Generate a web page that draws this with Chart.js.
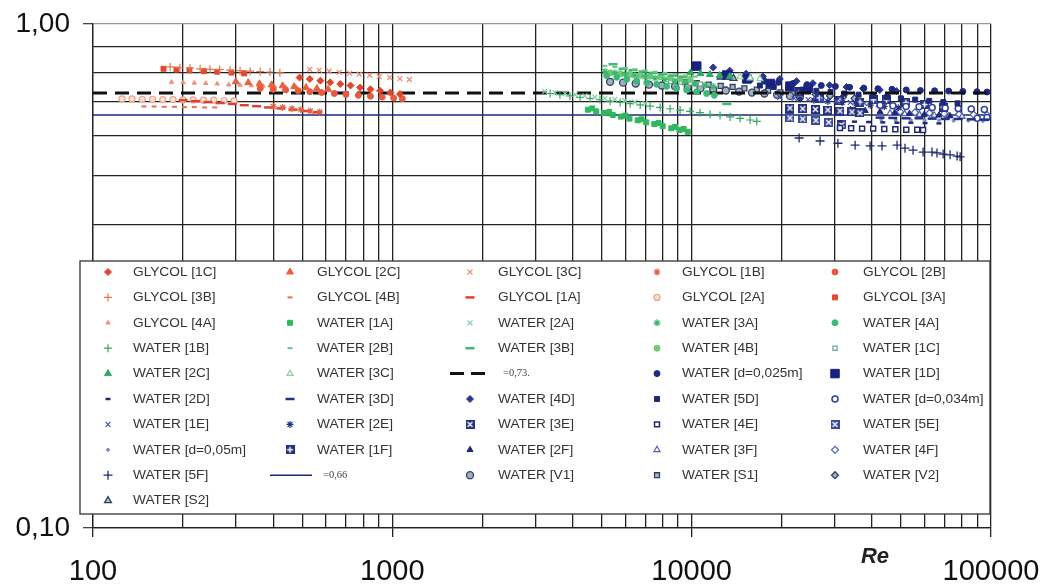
<!DOCTYPE html>
<html>
<head>
<meta charset="utf-8">
<style>
html, body { margin: 0; padding: 0; background: #fff; }
canvas { display: block; }
</style>
<script src="https://cdn.jsdelivr.net/npm/chart.js@4/dist/chart.umd.min.js"></script>
</head>
<body>
<canvas id="c" width="1047" height="588"></canvas>
<script>
// axis ticks
var xTickValues = [100, 1000, 10000, 100000];
var xTickText = ['100', '1000', '10000', '100000'];
var yTickValues = [0.1, 1];
var yTickText = ['0,10', '1,00'];

// reference lines
var ref073 = 0.73;
var ref066 = 0.66;

// GLYCOL series, [Re, value]
var G1C = [[490,0.783],[530,0.778],[575,0.772],[620,0.766],[670,0.760],[725,0.755],[780,0.748],[845,0.742],[910,0.737],[985,0.731],[1060,0.726]];
var G2C = [[300,0.768],[330,0.765],[360,0.761],[395,0.757],[430,0.754],[470,0.751],[515,0.748],[560,0.745],[610,0.742]];
var G3C = [[530,0.813],[570,0.810],[615,0.806],[665,0.802],[720,0.798],[775,0.795],[840,0.791],[905,0.787],[980,0.783],[1060,0.779],[1140,0.776]];
var G1B = [[400,0.686],[430,0.683],[462,0.679],[495,0.676],[532,0.672],[572,0.669]];
var G2B = [[362,0.745],[400,0.742],[440,0.740],[485,0.737],[530,0.734],[580,0.731],[640,0.728],[700,0.725],[770,0.722],[845,0.719],[925,0.716],[1010,0.713],[1080,0.711]];
var G3B = [[181,0.822],[195,0.819],[211,0.818],[228,0.815],[246,0.813],[265,0.812],[287,0.810],[310,0.808],[335,0.806],[362,0.805],[390,0.803],[421,0.800]];
var G4B = [[148,0.686],[160,0.686],[173,0.685],[187,0.685],[202,0.684],[218,0.684],[236,0.683],[255,0.683]];
var G1A = [[200,0.706],[220,0.703],[242,0.700],[266,0.697],[292,0.694],[320,0.690],[352,0.687],[386,0.683],[424,0.680],[466,0.676],[512,0.672],[562,0.668]];
var G2A = [[125,0.710],[135,0.710],[146,0.709],[158,0.709],[171,0.708],[185,0.708],[200,0.707],[216,0.707],[234,0.706],[253,0.706],[274,0.705],[296,0.704]];
var G3A = [[172,0.815],[190,0.812],[210,0.809],[235,0.806],[260,0.804],[290,0.801],[320,0.798]];
var G4A = [[183,0.767],[200,0.766],[218,0.764],[238,0.763],[260,0.761],[284,0.758],[310,0.757],[338,0.755],[370,0.753],[404,0.751],[440,0.749],[480,0.747]];

// WATER series, [Re, value]
var W1A = [[4500,0.676],[4650,0.680],[4800,0.671],[5100,0.666],[5300,0.669],[5450,0.660],[5800,0.655],[6000,0.658],[6200,0.649],[6600,0.644],[6800,0.647],[7050,0.638],[7500,0.633],[7750,0.636],[8000,0.627],[8550,0.621],[8800,0.625],[9100,0.616],[9400,0.619],[9700,0.611]];
var W2A = [[3230,0.735],[3500,0.731],[3780,0.728],[4080,0.724],[4400,0.720],[4750,0.716],[5130,0.712],[5540,0.709],[5980,0.705],[6460,0.700],[6980,0.696]];
var W3A = [[5130,0.805],[5540,0.800],[5980,0.795],[6460,0.790],[6980,0.786],[7540,0.781],[8140,0.776],[8790,0.771],[9500,0.766],[10260,0.761],[11080,0.756],[11800,0.752]];
var W4A = [[5200,0.790],[5620,0.784],[6070,0.777],[6550,0.771],[7080,0.765],[7640,0.759],[8250,0.752],[8910,0.746],[9620,0.740],[10390,0.734],[11220,0.728],[11900,0.722]];
var W1B = [[3365,0.728],[3630,0.724],[3920,0.720],[4240,0.715],[4580,0.712],[4940,0.708],[5340,0.703],[5770,0.699],[6230,0.695],[6730,0.691],[7260,0.687],[7850,0.683],[8470,0.679],[9150,0.675],[9880,0.671],[10670,0.667],[11520,0.662],[12440,0.658],[13440,0.654],[14520,0.650],[15680,0.645],[16500,0.641]];
var W2B = [[5130,0.826],[5540,0.822],[5980,0.818],[6460,0.813],[6980,0.809],[7540,0.804],[8140,0.800],[8790,0.795],[9500,0.790],[10260,0.786]];
var W3B = [[5460,0.832],[5900,0.815],[6370,0.810],[6880,0.805],[7430,0.800],[8020,0.795],[8660,0.790],[9350,0.785],[13100,0.694]];
var W4B = [[5340,0.800],[5770,0.797],[6230,0.794],[6730,0.791],[7260,0.788],[7850,0.785],[8470,0.782],[9150,0.779],[9880,0.776]];
var W1C = [[8500,0.770],[9200,0.767],[9900,0.764],[10700,0.760]];
var W2C = [[9900,0.800],[10700,0.797],[11500,0.794],[12400,0.790],[13400,0.786]];
var W3C = [[14500,0.785],[15700,0.781],[16900,0.778]];
var Wd025 = [[15700,0.775],[17500,0.770],[19500,0.766],[21800,0.762],[24300,0.758],[27100,0.755],[30200,0.752],[33700,0.749],[37600,0.746],[41900,0.744],[46700,0.742],[52100,0.740],[58100,0.738],[64800,0.737],[72200,0.736],[80500,0.735],[89800,0.734],[97000,0.733]];
var W1D = [[10400,0.825],[13100,0.792],[15300,0.778],[18300,0.762],[21300,0.753],[24500,0.745]];
var W2D = [[31300,0.641],[35000,0.640],[39000,0.639],[43500,0.638],[48500,0.637],[54000,0.637],[60200,0.636],[67000,0.635]];
var W3D = [[42600,0.652],[47000,0.651],[52000,0.650],[57500,0.650],[63600,0.649],[70300,0.648],[77700,0.648],[85900,0.647],[95000,0.646]];
var W4D = [[11800,0.820],[13400,0.808],[15200,0.797],[17300,0.787],[19700,0.778],[22400,0.770],[25400,0.763],[28900,0.756],[32900,0.750],[37400,0.745],[42500,0.740],[48300,0.736]];
var W5D = [[16900,0.755],[18800,0.750],[21000,0.745],[23400,0.741],[26100,0.737],[29100,0.733],[32400,0.728],[36100,0.724],[40300,0.720],[44900,0.716],[50000,0.712],[55800,0.708],[62200,0.704],[69300,0.700],[77300,0.696]];
var Wd034 = [[42600,0.690],[47000,0.688],[52000,0.686],[57500,0.685],[63600,0.683],[70300,0.681],[77700,0.680],[85900,0.678],[95000,0.677],[89900,0.650],[97000,0.652]];
var W1E = [[19700,0.715],[22000,0.712],[24500,0.708],[27300,0.705],[30400,0.702],[33900,0.699],[37800,0.696],[42100,0.693]];
var W2E = [[23000,0.710],[25600,0.706],[28500,0.702],[31800,0.698],[35400,0.694],[39500,0.690],[44000,0.686],[49000,0.682]];
var W3E = [[21300,0.681],[23500,0.679],[25900,0.677],[28500,0.675],[31300,0.672],[34300,0.669],[36500,0.666]];
var W4E = [[31300,0.622],[34100,0.621],[37100,0.620],[40400,0.620],[44000,0.619],[47900,0.618],[52100,0.617],[56700,0.617],[59300,0.616]];
var W5E = [[21300,0.651],[23500,0.648],[26000,0.644],[28700,0.638],[31700,0.631]];
var Wd05 = [[43000,0.646],[48000,0.645],[54000,0.645],[60000,0.644],[67000,0.644],[75000,0.643],[84000,0.643],[94000,0.642]];
var W1F = [[23000,0.733],[26700,0.713],[31300,0.704],[36500,0.700],[40500,0.707],[44800,0.707],[52000,0.698],[60000,0.692],[69200,0.684]];
var W2F = [[33900,0.676],[38000,0.673],[42600,0.670],[47700,0.667],[53400,0.664],[59800,0.661],[67000,0.659],[73000,0.657]];
var W3F = [[46000,0.665],[51500,0.663],[57700,0.661],[64600,0.659],[72300,0.657],[80000,0.655]];
var W4F = [[49700,0.670],[55700,0.668],[62300,0.666],[69800,0.664],[78200,0.662],[87500,0.661],[97000,0.660]];
var W5F = [[22850,0.594],[26850,0.586],[30800,0.580],[35160,0.575],[39450,0.573],[43250,0.573],[48550,0.575],[51600,0.567],[54900,0.562],[59300,0.557],[63500,0.557],[66000,0.555],[69200,0.552],[73000,0.550],[77060,0.547],[78860,0.545]];
var V1 = [[5340,0.768],[5900,0.765],[6500,0.762],[7200,0.758],[7950,0.755],[8800,0.752],[9700,0.748],[10700,0.745],[11800,0.741],[13000,0.738],[14400,0.734],[15900,0.731],[17500,0.728],[19300,0.724],[21300,0.720],[23000,0.717]];
var S1 = [[9500,0.767],[10400,0.763],[11400,0.758],[12500,0.754],[13700,0.750],[15000,0.745],[16500,0.741],[18000,0.737],[19800,0.732],[21700,0.728],[23000,0.724]];
var V2 = [[26000,0.725],[29000,0.720],[32000,0.716],[35000,0.712]];
var S2 = [[12500,0.785],[13800,0.780],[15200,0.775]];

// small square marks with a white cross inside
function boxMark(color, kind) {
	var c = document.createElement('canvas');
	c.width = 9; c.height = 9;
	var g = c.getContext('2d');
	g.fillStyle = color;
	g.fillRect(0, 0, 9, 9);
	g.strokeStyle = '#fff';
	g.lineWidth = 1.4;
	g.beginPath();
	if (kind == 'x') {
		g.moveTo(2, 2); g.lineTo(7, 7);
		g.moveTo(7, 2); g.lineTo(2, 7);
	} else {
		g.moveTo(4.5, 1.5); g.lineTo(4.5, 7.5);
		g.moveTo(1.5, 4.5); g.lineTo(7.5, 4.5);
	}
	g.stroke();
	return c;
}

function pts(label, data, style, fill, stroke, r, bw) {
	return {
		label: label, data: data, pointStyle: style,
		backgroundColor: fill, borderColor: stroke || fill,
		pointRadius: r, pointHoverRadius: r, pointBorderWidth: bw || 1,
		showLine: false
	};
}

function refLine(label, y, color, width, dash) {
	return {
		label: label, data: [[100, y], [100000, y]],
		borderColor: color, backgroundColor: color, borderWidth: width, borderDash: dash,
		pointRadius: 0, showLine: true, fill: false, isRef: true
	};
}

var navy = '#1e2878';
var datasets = [
	pts('GLYCOL [1C]', G1C, 'rectRot', '#e0462a', null, 3.5),
	pts('GLYCOL [2C]', G2C, 'triangle', '#e8603c', null, 4),
	pts('GLYCOL [3C]', G3C, 'crossRot', '#f08a70', null, 3.5, 1.2),
	pts('GLYCOL [1B]', G1B, 'star', '#e06040', null, 3.5, 1.2),
	pts('GLYCOL [2B]', G2B, 'circle', '#e85a40', null, 3),

	pts('GLYCOL [3B]', G3B, 'cross', '#e07848', null, 4, 1.2),
	pts('GLYCOL [4B]', G4B, 'line', '#e87050', null, 2.5, 2),
	pts('GLYCOL [1A]', G1A, 'line', '#e04030', null, 4.5, 2.5),
	pts('GLYCOL [2A]', G2A, 'circle', '#fbe2d8', '#f0a088', 3, 1.2),
	pts('GLYCOL [3A]', G3A, 'rect', '#e04a30', null, 3.5),

	pts('GLYCOL [4A]', G4A, 'triangle', '#f09080', null, 2.5),
	pts('WATER [1A]', W1A, 'rect', '#2fb85e', null, 3.5),
	pts('WATER [2A]', W2A, 'crossRot', '#7fd0a0', null, 3.5, 1.2),
	pts('WATER [3A]', W3A, 'star', '#3ab870', null, 3.5, 1.2),
	pts('WATER [4A]', W4A, 'circle', '#3cb878', null, 3),

	pts('WATER [1B]', W1B, 'cross', '#35a860', null, 4, 1.2),
	pts('WATER [2B]', W2B, 'line', '#5cc880', null, 2.5, 2),
	pts('WATER [3B]', W3B, 'line', '#40b870', null, 4.5, 2.5),
	pts('WATER [4B]', W4B, 'circle', '#70c878', null, 3),
	pts('WATER [1C]', W1C, 'rect', '#ffffff', '#68a890', 3, 1.2),

	pts('WATER [2C]', W2C, 'triangle', '#30a868', null, 4),
	pts('WATER [3C]', W3C, 'triangle', '#ffffff', '#90d0a0', 3.5, 1.2),
	refLine('=0,73.', ref073, '#111111', 3, [14, 8]),
	pts('WATER [d=0,025m]', Wd025, 'circle', '#1c2a80', null, 3),
	pts('WATER [1D]', W1D, 'rect', '#1a2080', null, 6),

	pts('WATER [2D]', W2D, 'line', '#202878', null, 2.5, 2.5),
	pts('WATER [3D]', W3D, 'line', '#203088', null, 4.5, 2.5),
	pts('WATER [4D]', W4D, 'rectRot', '#2a3890', null, 3.5),
	pts('WATER [5D]', W5D, 'rect', navy, null, 3.5),
	pts('WATER [d=0,034m]', Wd034, 'circle', '#ffffff', '#3040a0', 3, 1.5),

	pts('WATER [1E]', W1E, 'crossRot', '#4050c0', null, 3.5, 1.2),
	pts('WATER [2E]', W2E, 'star', '#283080', null, 3.5, 1.2),
	pts('WATER [3E]', W3E, boxMark('#23307e', 'x'), '#23307e', null, 4),
	pts('WATER [4E]', W4E, 'rect', '#ffffff', '#202870', 3.5, 1.5),
	pts('WATER [5E]', W5E, boxMark('#3a4898', 'x'), '#3a4898', null, 4),

	pts('WATER [d=0,05m]', Wd05, 'circle', '#8090c0', null, 1.5),
	pts('WATER [1F]', W1F, boxMark('#23307e', '+'), '#23307e', null, 4),
	pts('WATER [2F]', W2F, 'triangle', navy, null, 3.5),
	pts('WATER [3F]', W3F, 'triangle', '#ffffff', '#5060b0', 3.5, 1.2),
	pts('WATER [4F]', W4F, 'rectRot', '#ffffff', '#5060b0', 3.5, 1.2),

	pts('WATER [5F]', W5F, 'cross', '#1e2a70', null, 4.5, 1.3),
	refLine('=0,66', ref066, '#1e2a70', 1.5, []),
	pts('WATER [V1]', V1, 'circle', '#a0b0c0', '#304060', 3.5, 1.3),
	pts('WATER [S1]', S1, 'rect', '#a8b8c8', '#304060', 3.5, 1.3),
	pts('WATER [V2]', V2, 'rectRot', '#a0b0c0', '#304060', 3.5, 1.3),

	pts('WATER [S2]', S2, 'triangle', '#b0c0c8', '#304060', 4, 1.3)
];

function decadeTicks(min, max) {
	var list = [];
	for (var d = min; d < max * 0.999; d *= 10) {
		for (var k = 1; k <= 9; k++) list.push({ value: d * k });
	}
	list.push({ value: max });
	return list;
}

function labelFor(values, texts, v) {
	for (var i = 0; i < values.length; i++) {
		if (Math.abs(v - values[i]) / values[i] < 1e-6) return texts[i];
	}
	return '';
}

// legend box drawn over the lower part of the plot
var legendBox = {
	id: 'legendBox',
	afterDraw: function(chart) {
		var ctx = chart.ctx;
		var colX = [108, 290, 470, 657, 835];
		var textX = [133, 317, 498, 682, 863];
		ctx.save();
		ctx.fillStyle = '#fff';
		ctx.fillRect(80, 261, 910, 253);
		ctx.strokeStyle = '#333';
		ctx.lineWidth = 1.3;
		ctx.strokeRect(80, 261, 910, 253);
		ctx.textBaseline = 'middle';
		chart.data.datasets.forEach(function(ds, i) {
			var col = i % 5, row = Math.floor(i / 5);
			var mx = colX[col], my = 272 + row * 25.4;
			if (ds.isRef) {
				ctx.strokeStyle = ds.borderColor;
				ctx.lineWidth = ds.borderWidth;
				ctx.setLineDash(ds.borderDash.length ? [14, 7] : []);
				ctx.beginPath();
				ctx.moveTo(mx - 20, my);
				ctx.lineTo(mx + 22, my);
				ctx.stroke();
				ctx.setLineDash([]);
				ctx.font = '10.5px "Liberation Serif"';
				ctx.fillStyle = '#444';
				ctx.fillText(ds.label, mx + 33, my);
			} else {
				ctx.fillStyle = ds.backgroundColor;
				ctx.strokeStyle = ds.borderColor;
				ctx.lineWidth = ds.pointBorderWidth;
				Chart.helpers.drawPoint(ctx, {
					pointStyle: ds.pointStyle, radius: ds.pointRadius,
					rotation: 0, borderWidth: ds.pointBorderWidth
				}, mx, my);
				ctx.font = '13.7px "Liberation Sans"';
				ctx.fillStyle = '#333';
				ctx.fillText(ds.label, textX[col], my);
			}
		});
		// axis title
		ctx.font = 'italic bold 22px "Liberation Sans"';
		ctx.fillStyle = '#222';
		ctx.textAlign = 'center';
		ctx.fillText('Re', 875, 557);
		ctx.restore();
	}
};

var gridColor = function(c) { return c.tick && c.tick.value >= 0.999 && c.tick.value <= 1.001 ? '#999' : '#222'; };

var chart = new Chart(document.getElementById('c'), {
	type: 'scatter',
	data: { datasets: datasets },
	options: {
		responsive: false,
		animation: false,
		devicePixelRatio: 1,
		layout: { padding: { left: 0, top: 24, right: 56, bottom: 0 } },
		plugins: { legend: { display: false }, tooltip: { enabled: false } },
		scales: {
			x: {
				type: 'logarithmic', min: 100, max: 100000,
				afterBuildTicks: function(s) { s.ticks = decadeTicks(100, 100000); },
				afterFit: function(s) { s.height = 60; s.paddingLeft = 0; s.paddingRight = 0; },
				grid: {
					color: '#222', lineWidth: 1.3, tickLength: 9,
					tickColor: function(c) { return labelFor(xTickValues, xTickText, c.tick.value) ? '#222' : 'rgba(0,0,0,0)'; }
				},
				border: { color: '#222', width: 1.3 },
				ticks: {
					autoSkip: false, maxRotation: 0, padding: 18, color: '#111',
					font: { family: 'Liberation Sans', size: 29 },
					callback: function(v) { return labelFor(xTickValues, xTickText, v); }
				}
			},
			y: {
				type: 'logarithmic', min: 0.1, max: 1,
				afterBuildTicks: function(s) { s.ticks = decadeTicks(0.1, 1); },
				afterFit: function(s) { s.width = 93; s.paddingTop = 0; s.paddingBottom = 0; },
				grid: {
					color: gridColor, lineWidth: 1.3, tickLength: 10,
					tickColor: function(c) { return labelFor(yTickValues, yTickText, c.tick.value) ? '#444' : 'rgba(0,0,0,0)'; }
				},
				border: { color: '#222', width: 1.3 },
				ticks: {
					autoSkip: false, padding: 13, color: '#111',
					font: { family: 'Liberation Sans', size: 28 },
					callback: function(v) { return labelFor(yTickValues, yTickText, v); }
				}
			}
		}
	},
	plugins: [legendBox]
});
</script>
</body>
</html>
